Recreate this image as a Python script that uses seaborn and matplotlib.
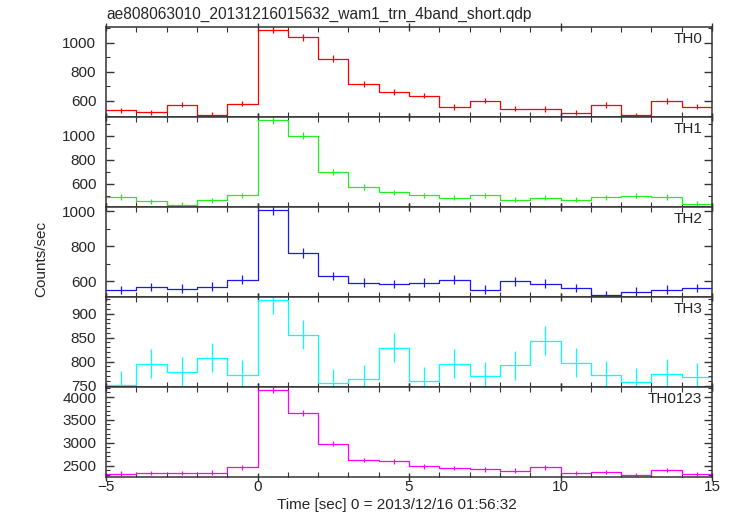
import numpy as np
import pandas as pd
import matplotlib
matplotlib.use('Agg')
import matplotlib.pyplot as plt
from matplotlib.ticker import MultipleLocator
import seaborn as sns

# bin centres (1 s bins), time relative to 2013/12/16 01:56:32
time = [-4.5, -3.5, -2.5, -1.5, -0.5, 0.5, 1.5, 2.5, 3.5, 4.5,
        5.5, 6.5, 7.5, 8.5, 9.5, 10.5, 11.5, 12.5, 13.5, 14.5]

th0 = [536, 522, 575, 506, 582, 1089, 1037, 890, 714, 664,
       637, 559, 602, 547, 545, 520, 573, 502, 600, 561]
th0_err = [18, 18, 19, 18, 19, 26, 25, 23, 21, 20,
           20, 19, 19, 18, 18, 18, 19, 18, 19, 18]

th1 = [492, 456, 425, 464, 505, 1136, 1003, 700, 575, 530,
       505, 486, 505, 470, 486, 470, 489, 503, 492, 436]
th1_err = [22, 21, 21, 21, 22, 34, 32, 26, 24, 23,
           22, 22, 22, 22, 22, 22, 22, 22, 22, 21]

th2 = [549, 566, 558, 570, 610, 1010, 764, 630, 592, 585,
       592, 610, 552, 600, 587, 560, 524, 541, 552, 562]
th2_err = [24, 24, 24, 24, 25, 32, 28, 25, 25, 24,
           25, 25, 24, 25, 24, 24, 23, 24, 24, 24]

th3 = [751, 796, 779, 808, 773, 929, 856, 756, 763, 829,
       759, 796, 771, 792, 844, 798, 773, 757, 775, 768]
th3_err = [29, 30, 30, 30, 30, 30, 30, 29, 29, 30,
           29, 30, 29, 30, 30, 30, 29, 29, 30, 29]

th0123 = [2324, 2331, 2331, 2346, 2463, 4162, 3654, 2978, 2625, 2596,
          2485, 2449, 2419, 2390, 2463, 2338, 2360, 2287, 2404, 2309]
th0123_err = [48, 48, 48, 48, 50, 65, 60, 55, 51, 51,
              50, 50, 49, 49, 50, 49, 49, 48, 49, 48]

bands = ['TH0', 'TH1', 'TH2', 'TH3', 'TH0123']
values = [th0, th1, th2, th3, th0123]
errors = [th0_err, th1_err, th2_err, th3_err, th0123_err]
colors = ['#ff0000', '#22ee22', '#1a1aee', '#00ffff', '#ff00ff']
ylims = [(490, 1107), (408, 1158), (510, 1025), (747, 935), (2250, 4220)]
ymajor = [200, 200, 200, 50, 500]
yminor = [100, 100, 100, 10, 100]

title = 'ae808063010_20131216015632_wam1_trn_4band_short.qdp'

sns.set_style('ticks')
plt.rcParams['font.family'] = ['Liberation Sans', 'DejaVu Sans']
plt.rcParams['font.size'] = 11

fig, axes = plt.subplots(5, 1, sharex=True, figsize=(7.33, 5.16), dpi=100)
fig.subplots_adjust(left=106/733, right=712/733, top=1-27/516, bottom=1-477/516, hspace=0)

for ax, name, vals, errs, c, yl, ymj, ymn in zip(axes, bands, values, errors, colors, ylims, ymajor, yminor):
    df = pd.DataFrame({'time': time, 'rate': vals, 'err': errs})
    # weighted 1 s histogram -> step light curve
    sns.histplot(data=df, x='time', weights='rate', binwidth=1, binrange=(-5, 15),
                 element='step', fill=False, color=c, linewidth=0.9, ax=ax)
    ax.errorbar(df['time'], df['rate'], yerr=df['err'], fmt='none',
                ecolor=c, elinewidth=0.9, capsize=0)
    ax.set_xlim(-5, 15)
    ax.set_ylim(*yl)
    ax.set_ylabel('')
    ax.set_xlabel('')
    ax.xaxis.set_major_locator(MultipleLocator(5))
    ax.xaxis.set_minor_locator(MultipleLocator(1))
    ax.yaxis.set_major_locator(MultipleLocator(ymj))
    ax.yaxis.set_minor_locator(MultipleLocator(ymn))
    ax.tick_params(axis='both', which='both', direction='in', top=True, right=True,
                   color='#333333', labelsize=11)
    ax.tick_params(axis='x', which='major', direction='inout', length=6, width=1)
    ax.tick_params(axis='x', which='minor', length=3.5, width=0.8)
    ax.tick_params(axis='y', which='major', length=6, width=1, pad=7)
    ax.tick_params(axis='y', which='minor', length=3, width=0.8)
    for sp in ax.spines.values():
        sp.set_color('#333333')
        sp.set_linewidth(1.1)
    ax.text(0.9835, 0.822, name, transform=ax.transAxes, ha='right', va='baseline', fontsize=11)

axes[-1].tick_params(axis='x', which='major', pad=-1)

fig.text(106/733, 1-19/516, title, ha='left', va='baseline', fontsize=11.2)
fig.text(41/733, 1-259/516, 'Counts/sec', rotation=90, ha='center', va='center', fontsize=11)
fig.text(397/733, 1-509/516, 'Time [sec] 0 = 2013/12/16 01:56:32', ha='center', va='baseline', fontsize=11)

fig.savefig('out.png', dpi=100)
